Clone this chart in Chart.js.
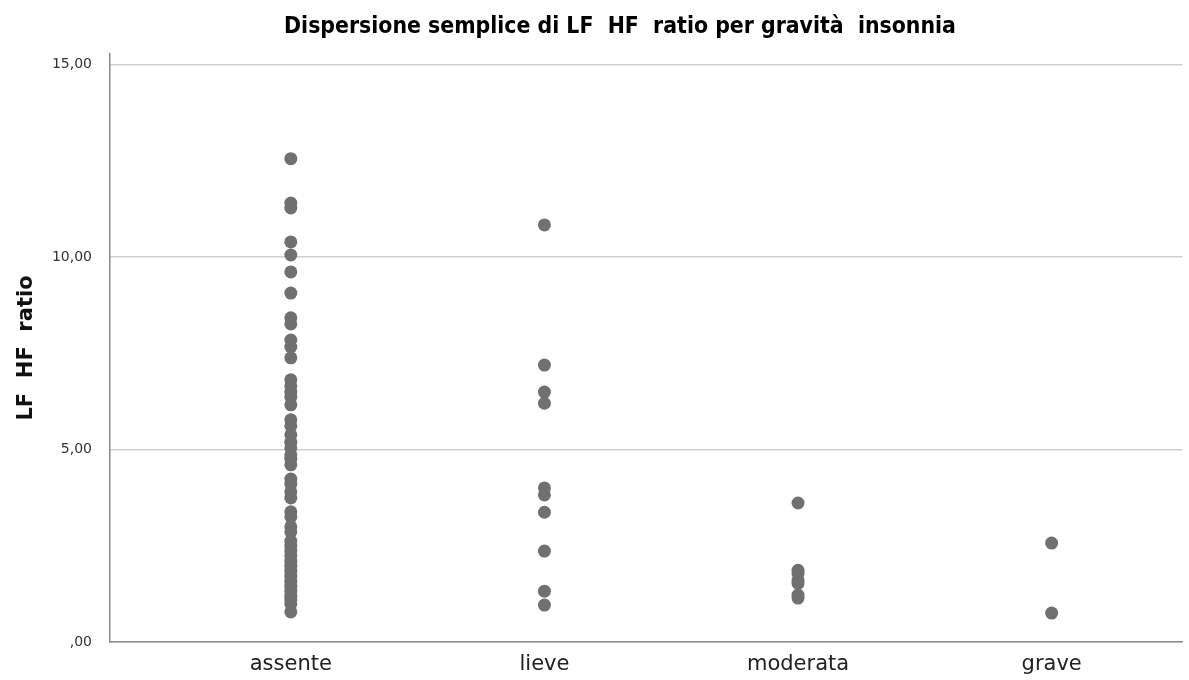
<!DOCTYPE html>
<html><head><meta charset="utf-8">
<script src="https://cdn.jsdelivr.net/npm/chart.js@4/dist/chart.umd.min.js"></script>
<style>html,body{margin:0;padding:0;background:#fff}</style>
</head><body>
<canvas id="c" width="1189" height="680"></canvas>
<script>
const categories = ['assente', 'lieve', 'moderata', 'grave'];
const assente = [12.55, 11.40, 11.27, 10.39, 10.05, 9.61, 9.06, 8.42, 8.26, 7.84, 7.66, 7.38,
  6.81, 6.65, 6.49, 6.36, 6.16, 5.77, 5.61, 5.38, 5.19, 5.04, 4.86, 4.75, 4.60, 4.23, 4.10,
  3.90, 3.74, 3.38, 3.25, 2.99, 2.86, 2.62, 2.49, 2.36, 2.23, 2.10, 1.97, 1.84, 1.71, 1.58,
  1.45, 1.32, 1.19, 1.09, 0.99, 0.78];
const lieve = [10.83, 7.19, 6.49, 6.20, 4.00, 3.82, 3.37, 2.36, 1.32, 0.96];
const moderata = [3.61, 1.86, 1.78, 1.60, 1.52, 1.22, 1.14];
const grave = [2.57, 0.75];
const yTicks = [0, 5, 10, 15];

const seriesByCategory = [assente, lieve, moderata, grave];
const points = [];
seriesByCategory.forEach((vals, i) => vals.forEach(v => points.push({x: i + 1, y: v})));

const titleShift = {
  id: 'titleShift',
  afterLayout(chart) {
    if (chart.titleBlock) { chart.titleBlock.left += 57; }
  }
};

new Chart(document.getElementById('c'), {
  type: 'scatter',
  data: {
    datasets: [{
      data: points,
      pointRadius: 6.5,
      pointHoverRadius: 6.5,
      backgroundColor: '#707070',
      borderWidth: 0
    }]
  },
  plugins: [titleShift],
  options: {
    responsive: false,
    animation: false,
    layout: {padding: {left: 0, right: 6, top: 0, bottom: 0}},
    plugins: {
      legend: {display: false},
      tooltip: {enabled: false},
      title: {
        display: true,
        text: 'Dispersione semplice di LF  HF  ratio per gravità  insonnia',
        color: '#000',
        font: {family: '"DejaVu Sans Condensed", "DejaVu Sans", sans-serif', size: 22.8, weight: 'bold'},
        padding: {top: 13, bottom: 13.6}
      }
    },
    scales: {
      x: {
        type: 'linear',
        min: 0.287,
        max: 4.516,
        afterBuildTicks: s => { s.ticks = categories.map((c, i) => ({value: i + 1})); },
        afterFit: s => { s.height = 38; },
        grid: {display: false, drawTicks: false},
        border: {display: true, color: '#8a8a8a', width: 1.5},
        ticks: {
          padding: 10,
          color: '#222',
          font: {family: '"DejaVu Sans", sans-serif', size: 21},
          callback: v => categories[Math.round(v) - 1]
        }
      },
      y: {
        min: 0,
        max: 15.27,
        afterBuildTicks: s => { s.ticks = yTicks.map(v => ({value: v})); },
        afterFit: s => { s.width = 110; },
        grid: {color: '#cfcfcf', lineWidth: 1.5, drawTicks: false},
        border: {display: true, color: '#8a8a8a', width: 1.5},
        ticks: {
          padding: 18,
          color: '#333',
          font: {family: '"DejaVu Sans", sans-serif', size: 14},
          callback: v => v === 0 ? ',00' : v.toFixed(2).replace('.', ',')
        },
        title: {
          display: true,
          text: 'LF  HF  ratio',
          color: '#111',
          font: {family: '"DejaVu Sans", sans-serif', size: 21, weight: 'bold'},
          padding: {top: 14, bottom: 0}
        }
      }
    }
  }
});
</script>
</body></html>
